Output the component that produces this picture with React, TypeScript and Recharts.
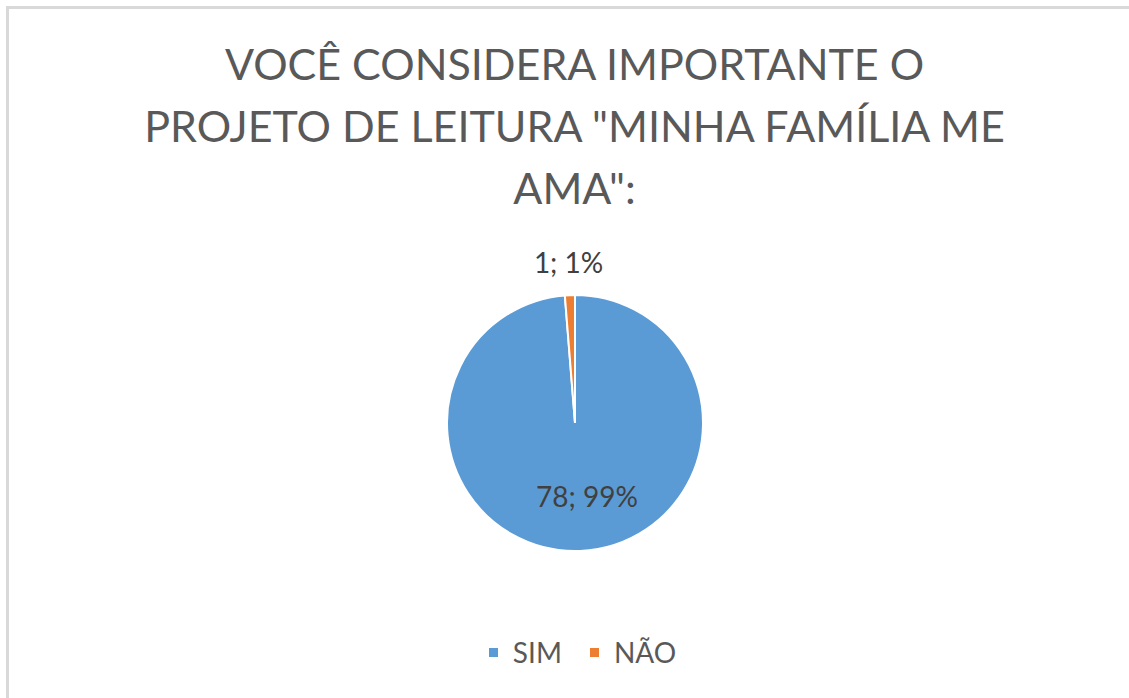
import { PieChart, Pie, Cell, Legend } from "recharts";

const categories = ["SIM", "NÃO"];
const answers = [78, 1];
const colors = ["#5B9BD5", "#ED7D31"];
const titleLines = ["VOCÊ CONSIDERA IMPORTANTE O", "PROJETO DE LEITURA \"MINHA FAMÍLIA ME", "AMA\":"];

const FONT = "Lato, 'Open Sans', sans-serif";
const RAD = Math.PI / 180;

const data = categories.map((name, i) => ({ name, value: answers[i] }));

// label "valor; percentual" como no Excel
const renderLabel = (props: any) => {
  const { cx, cy, midAngle, outerRadius, value, percent, index } = props;
  const r = index === 0 ? outerRadius * 0.57 : outerRadius + 33;
  const x = cx + r * Math.cos(-midAngle * RAD) + (index === 0 ? 9 : 0);
  const y = cy + r * Math.sin(-midAngle * RAD);
  return (
    <text
      x={x}
      y={y}
      fill="#404040"
      fontSize={28}
      fontFamily={FONT}
      textAnchor="middle"
      dominantBaseline="central"
    >
      {`${value}; ${Math.round(percent * 100)}%`}
    </text>
  );
};

// legenda na ordem das categorias
const renderLegend = () => (
  <div style={{ display: "flex", justifyContent: "center", alignItems: "center", gap: 28, fontFamily: FONT }}>
    {categories.map((c, i) => (
      <div key={c} style={{ display: "flex", alignItems: "center", gap: 15 }}>
        <span style={{ width: 9, height: 9, background: colors[i], display: "inline-block" }} />
        <span style={{ fontSize: 28, color: "#595959" }}>{c}</span>
      </div>
    ))}
  </div>
);

export default function App() {
  return (
    <div style={{ position: "fixed", left: 0, top: 0, width: 1129, height: 698, background: "#fff", overflow: "hidden" }}>
      <div
        style={{
          position: "absolute",
          left: 6,
          top: 6,
          width: 1300,
          height: 900,
          border: "3px solid #d9d9d9",
          boxSizing: "border-box",
        }}
      />
      <div
        style={{
          position: "absolute",
          left: 0,
          top: 33,
          width: 1149,
          textAlign: "center",
          fontFamily: FONT,
          fontSize: 43,
          lineHeight: "62px",
          color: "#595959",
        }}
      >
        {titleLines.map((l) => (
          <div key={l}>{l}</div>
        ))}
      </div>
      <div style={{ position: "absolute", left: 0, top: 0 }}>
        <PieChart width={1129} height={698} margin={{ top: 0, right: 0, bottom: 0, left: 0 }}>
          <Pie
            data={data}
            dataKey="value"
            nameKey="name"
            cx={575}
            cy={423}
            outerRadius={128}
            startAngle={90}
            endAngle={-270}
            stroke="#fff"
            strokeWidth={2}
            label={renderLabel}
            labelLine={false}
            isAnimationActive={false}
          >
            {data.map((d, i) => (
              <Cell key={d.name} fill={colors[i]} />
            ))}
          </Pie>
          <Legend
            content={renderLegend}
            wrapperStyle={{ position: "absolute", left: 8, top: 635, width: 1149 }}
          />
        </PieChart>
      </div>
    </div>
  );
}
